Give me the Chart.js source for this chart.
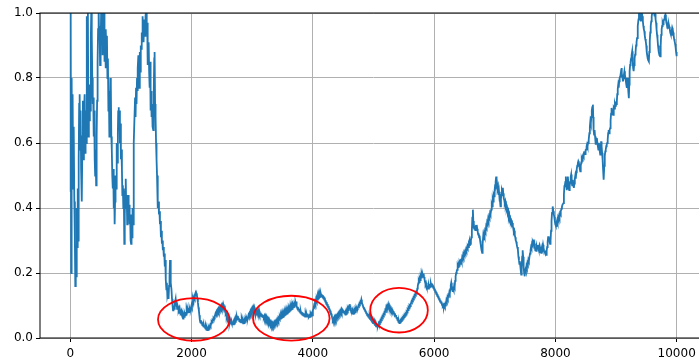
<!DOCTYPE html>
<html>
<head>
<meta charset="utf-8">
<script src="https://cdn.jsdelivr.net/npm/chart.js@4/dist/chart.umd.min.js"></script>
<style>
html,body{margin:0;padding:0;background:#fff;overflow:hidden}
#wrap{width:720px;height:357px}
</style>
</head>
<body>
<div id="wrap"><canvas id="c" width="720" height="357"></canvas></div>
<script>
// Random-walk trace: [step, value]
const series = [
[0,0.45],[6,1.02],[14,0.20],[22,0.80],[30,0.46],[38,0.75],[46,0.50],[56,0.65],[66,0.42],[75,0.30],
[82,0.16],[90,0.22],[98,0.19],[106,0.40],[114,0.28],[122,0.46],[130,0.30],[138,0.55],[146,0.72],[154,0.75],
[162,0.58],[170,0.70],[178,0.52],[186,0.60],[192,0.42],[200,0.62],[208,0.73],[216,0.55],[224,0.68],[236,0.75],
[244,0.57],[252,0.70],[260,0.60],[268,0.88],[275,0.99],[282,0.80],[290,1.0],[298,0.62],[306,0.72],[314,0.67],
[322,0.78],[330,0.70],[338,0.92],[346,1.01],[354,0.93],[362,0.80],[370,0.72],[378,0.74],[386,0.62],[394,0.70],
[402,0.55],[410,0.50],[418,0.58],[426,0.47],[434,0.62],[442,0.73],[450,0.85],[458,0.95],[467,1.02],[475,0.92],
[483,0.96],[491,0.84],[500,0.90],[508,1.0],[516,0.95],[524,1.02],[532,0.87],[540,0.98],[548,0.92],[556,1.0],
[564,0.85],[572,0.93],[580,0.83],[588,0.95],[596,0.88],[604,0.93],[612,0.80],[620,0.86],[628,0.70],[636,0.76],
[644,0.62],[652,0.68],[660,0.80],[668,0.78],[676,0.62],[684,0.58],[692,0.50],[700,0.46],[708,0.52],[716,0.40],
[724,0.45],[731,0.35],[738,0.42],[746,0.50],[754,0.46],[762,0.58],[768,0.60],[776,0.54],[784,0.63],[790,0.70],
[796,0.71],[802,0.64],[810,0.70],[818,0.60],[826,0.66],[834,0.55],[842,0.58],[851,0.52],[858,0.44],[866,0.47],
[874,0.40],[882,0.46],[890,0.29],[898,0.38],[906,0.45],[914,0.49],[922,0.40],[930,0.44],[938,0.35],[946,0.40],
[954,0.44],[962,0.37],[970,0.41],[978,0.35],[986,0.38],[994,0.30],[1002,0.29],[1010,0.38],[1018,0.31],[1026,0.40],
[1034,0.35],[1042,0.50],[1050,0.60],[1060,0.69],[1068,0.74],[1076,0.68],[1084,0.77],[1092,0.72],[1100,0.80],[1108,0.76],
[1115,0.83],[1122,0.87],[1130,0.80],[1138,0.77],[1146,0.88],[1154,0.82],[1162,0.90],[1170,0.89],[1178,0.94],[1186,0.92],
[1192,0.99],[1200,0.95],[1208,0.91],[1216,0.96],[1224,0.98],[1232,0.93],[1240,0.99],[1252,1.01],[1260,0.94],[1268,0.97],
[1276,0.84],[1284,0.88],[1292,0.91],[1300,0.82],[1308,0.77],[1316,0.85],[1324,0.70],[1332,0.76],[1340,0.68],[1348,0.72],
[1356,0.65],[1368,0.64],[1376,0.76],[1384,0.86],[1390,0.88],[1398,0.72],[1406,0.68],[1414,0.60],[1422,0.55],[1430,0.50],
[1438,0.45],[1446,0.40],[1454,0.42],[1462,0.38],[1470,0.39],[1478,0.35],[1486,0.36],[1494,0.31],[1502,0.33],[1510,0.29],
[1518,0.30],[1526,0.27],[1534,0.28],[1542,0.25],[1550,0.26],[1558,0.22],[1566,0.24],[1574,0.18],[1584,0.15],[1592,0.17],
[1600,0.13],[1611,0.14],[1620,0.12],[1628,0.16],[1636,0.19],[1644,0.24],[1652,0.22],[1660,0.17],[1668,0.15],[1677,0.12],
[1686,0.10],[1694,0.085],[1702,0.10],[1710,0.09],[1718,0.115],[1726,0.105],[1737,0.12],[1745,0.10],[1753,0.11],[1761,0.09],
[1769,0.10],[1777,0.095],[1785,0.085],[1793,0.09],[1801,0.075],[1809,0.085],[1817,0.07],[1825,0.08],[1833,0.085],[1841,0.07],
[1849,0.065],[1859,0.06],[1867,0.07],[1875,0.065],[1886,0.075],[1894,0.07],[1902,0.08],[1910,0.072],[1918,0.085],[1926,0.078],
[1934,0.09],[1941,0.085],[1950,0.092],[1958,0.08],[1966,0.09],[1974,0.084],[1982,0.095],[1990,0.09],[1998,0.10],[2006,0.095],
[2014,0.11],[2023,0.118],[2032,0.11],[2040,0.125],[2048,0.12],[2056,0.132],[2063,0.138],[2072,0.128],[2080,0.137],[2088,0.132],
[2096,0.12],[2104,0.11],[2112,0.095],[2120,0.085],[2128,0.07],[2136,0.055],[2144,0.048],[2152,0.055],[2160,0.045],[2168,0.05],
[2177,0.04],[2186,0.044],[2194,0.036],[2202,0.04],[2210,0.034],[2218,0.038],[2226,0.03],[2234,0.033],[2242,0.026],[2250,0.03],
[2258,0.024],[2266,0.028],[2274,0.025],[2282,0.032],[2290,0.028],[2298,0.035],[2306,0.04],[2314,0.037],[2322,0.045],[2330,0.05],
[2338,0.048],[2346,0.056],[2354,0.055],[2362,0.062],[2370,0.06],[2378,0.07],[2386,0.066],[2394,0.075],[2402,0.072],[2410,0.08],
[2418,0.076],[2426,0.084],[2434,0.08],[2442,0.088],[2450,0.082],[2458,0.09],[2466,0.086],[2474,0.094],[2482,0.09],[2490,0.098],
[2498,0.092],[2506,0.10],[2514,0.095],[2522,0.104],[2530,0.098],[2538,0.09],[2546,0.10],[2554,0.085],[2562,0.075],[2570,0.078],
[2578,0.065],[2586,0.07],[2594,0.058],[2602,0.062],[2610,0.05],[2618,0.055],[2626,0.045],[2634,0.052],[2642,0.042],[2650,0.05],
[2658,0.044],[2666,0.052],[2674,0.046],[2682,0.05],[2690,0.042],[2698,0.048],[2706,0.044],[2714,0.054],[2722,0.05],[2730,0.06],
[2738,0.056],[2746,0.066],[2754,0.06],[2762,0.068],[2770,0.058],[2778,0.062],[2786,0.052],[2794,0.058],[2802,0.05],[2810,0.056],
[2818,0.048],[2826,0.055],[2834,0.048],[2842,0.052],[2850,0.045],[2858,0.05],[2866,0.046],[2874,0.054],[2882,0.05],[2890,0.058],
[2898,0.054],[2906,0.062],[2914,0.058],[2922,0.065],[2930,0.06],[2938,0.07],[2946,0.066],[2954,0.074],[2962,0.07],[2970,0.08],
[2978,0.075],[2986,0.085],[2994,0.08],[3002,0.09],[3010,0.085],[3018,0.094],[3026,0.088],[3034,0.095],[3041,0.09],[3050,0.08],
[3058,0.072],[3066,0.078],[3074,0.07],[3082,0.08],[3090,0.074],[3098,0.082],[3106,0.076],[3114,0.084],[3122,0.077],[3130,0.072],
[3138,0.078],[3146,0.068],[3154,0.074],[3162,0.066],[3170,0.072],[3178,0.064],[3186,0.07],[3194,0.062],[3202,0.068],[3210,0.06],
[3218,0.066],[3226,0.058],[3234,0.064],[3242,0.055],[3250,0.06],[3258,0.052],[3266,0.057],[3274,0.048],[3282,0.054],[3290,0.046],
[3298,0.05],[3306,0.043],[3314,0.048],[3322,0.042],[3330,0.046],[3338,0.04],[3346,0.045],[3354,0.042],[3362,0.048],[3370,0.044],
[3378,0.05],[3386,0.046],[3394,0.052],[3402,0.048],[3410,0.056],[3418,0.052],[3426,0.06],[3434,0.055],[3442,0.062],[3450,0.058],
[3458,0.066],[3466,0.06],[3474,0.068],[3482,0.062],[3490,0.07],[3498,0.064],[3506,0.072],[3514,0.066],[3522,0.075],[3530,0.07],
[3538,0.078],[3546,0.072],[3554,0.08],[3562,0.074],[3570,0.082],[3578,0.076],[3586,0.085],[3594,0.08],[3602,0.088],[3610,0.082],
[3618,0.09],[3626,0.085],[3634,0.094],[3642,0.088],[3650,0.096],[3658,0.09],[3666,0.10],[3674,0.094],[3682,0.10],[3690,0.096],
[3698,0.104],[3706,0.10],[3714,0.11],[3722,0.104],[3728,0.112],[3736,0.098],[3744,0.092],[3752,0.096],[3760,0.088],[3768,0.09],
[3776,0.082],[3784,0.086],[3792,0.078],[3800,0.082],[3808,0.075],[3816,0.08],[3824,0.072],[3832,0.078],[3840,0.07],[3848,0.076],
[3856,0.068],[3864,0.074],[3872,0.066],[3880,0.072],[3888,0.066],[3896,0.074],[3904,0.068],[3912,0.075],[3920,0.066],[3928,0.072],
[3936,0.065],[3946,0.07],[3954,0.065],[3962,0.072],[3970,0.068],[3978,0.075],[3990,0.07],[4000,0.085],[4010,0.09],[4020,0.10],
[4028,0.097],[4036,0.11],[4044,0.105],[4052,0.118],[4060,0.112],[4068,0.124],[4076,0.118],[4084,0.128],[4092,0.122],[4100,0.132],
[4108,0.126],[4116,0.134],[4124,0.128],[4132,0.136],[4140,0.13],[4148,0.134],[4156,0.126],[4164,0.132],[4172,0.122],[4180,0.128],
[4188,0.118],[4196,0.124],[4204,0.112],[4212,0.116],[4220,0.105],[4228,0.11],[4236,0.10],[4244,0.104],[4252,0.094],[4260,0.098],
[4268,0.088],[4276,0.09],[4284,0.08],[4292,0.084],[4300,0.072],[4308,0.075],[4316,0.064],[4324,0.06],[4332,0.055],[4340,0.06],
[4348,0.054],[4356,0.062],[4364,0.056],[4372,0.064],[4380,0.058],[4388,0.066],[4396,0.062],[4404,0.07],[4412,0.066],[4420,0.074],
[4428,0.07],[4436,0.078],[4444,0.074],[4452,0.082],[4460,0.078],[4468,0.086],[4476,0.08],[4484,0.088],[4496,0.084],[4504,0.08],
[4512,0.084],[4520,0.076],[4528,0.08],[4536,0.072],[4544,0.078],[4552,0.074],[4560,0.082],[4568,0.078],[4576,0.09],[4584,0.086],
[4592,0.096],[4600,0.10],[4608,0.104],[4616,0.094],[4624,0.088],[4632,0.08],[4640,0.084],[4648,0.076],[4656,0.08],[4664,0.074],
[4672,0.08],[4680,0.076],[4688,0.084],[4696,0.08],[4704,0.088],[4712,0.084],[4720,0.092],[4728,0.088],[4736,0.096],[4744,0.092],
[4752,0.10],[4760,0.098],[4768,0.106],[4776,0.104],[4784,0.112],[4792,0.11],[4800,0.118],[4808,0.11],[4816,0.104],[4824,0.10],
[4832,0.094],[4840,0.096],[4848,0.088],[4856,0.09],[4864,0.082],[4872,0.084],[4880,0.076],[4888,0.078],[4896,0.07],[4904,0.074],
[4912,0.066],[4920,0.07],[4928,0.062],[4936,0.064],[4944,0.058],[4952,0.06],[4960,0.054],[4968,0.056],[4976,0.05],[4984,0.052],
[4992,0.046],[5000,0.05],[5010,0.044],[5018,0.046],[5026,0.04],[5034,0.042],[5042,0.036],[5050,0.04],[5058,0.035],[5066,0.04],
[5074,0.036],[5082,0.044],[5090,0.04],[5098,0.048],[5106,0.046],[5114,0.054],[5122,0.052],[5130,0.06],[5138,0.058],[5146,0.066],
[5154,0.064],[5162,0.072],[5170,0.07],[5178,0.078],[5186,0.076],[5194,0.086],[5202,0.084],[5210,0.094],[5218,0.09],[5226,0.10],
[5234,0.098],[5242,0.104],[5250,0.096],[5258,0.10],[5266,0.09],[5274,0.094],[5282,0.086],[5290,0.09],[5298,0.082],[5306,0.086],
[5314,0.078],[5322,0.082],[5330,0.076],[5338,0.08],[5346,0.072],[5354,0.076],[5362,0.068],[5370,0.07],[5378,0.062],[5386,0.064],
[5394,0.056],[5402,0.058],[5410,0.05],[5418,0.052],[5426,0.046],[5434,0.05],[5442,0.048],[5450,0.054],[5458,0.052],[5466,0.058],
[5474,0.056],[5482,0.062],[5490,0.06],[5498,0.066],[5506,0.064],[5514,0.07],[5522,0.068],[5530,0.074],[5538,0.072],[5546,0.08],
[5554,0.078],[5562,0.088],[5570,0.086],[5578,0.094],[5586,0.092],[5594,0.10],[5602,0.098],[5610,0.106],[5618,0.104],[5626,0.112],
[5634,0.11],[5642,0.118],[5650,0.116],[5658,0.124],[5666,0.122],[5674,0.13],[5682,0.128],[5690,0.136],[5698,0.134],[5706,0.142],
[5714,0.14],[5722,0.152],[5730,0.16],[5738,0.168],[5746,0.176],[5754,0.172],[5762,0.182],[5770,0.178],[5778,0.19],[5786,0.186],
[5794,0.194],[5802,0.188],[5810,0.196],[5818,0.19],[5826,0.198],[5834,0.188],[5842,0.18],[5850,0.172],[5858,0.166],[5866,0.17],
[5874,0.16],[5882,0.164],[5890,0.154],[5898,0.16],[5906,0.152],[5914,0.162],[5922,0.156],[5930,0.166],[5938,0.158],[5946,0.168],
[5954,0.162],[5962,0.168],[5970,0.158],[5978,0.164],[5986,0.154],[5994,0.158],[6002,0.148],[6010,0.152],[6018,0.142],[6026,0.146],
[6034,0.136],[6042,0.14],[6050,0.13],[6058,0.134],[6066,0.124],[6074,0.128],[6082,0.118],[6090,0.122],[6098,0.112],[6106,0.116],
[6114,0.108],[6122,0.112],[6130,0.102],[6138,0.106],[6146,0.098],[6154,0.102],[6162,0.094],[6170,0.10],[6178,0.096],[6186,0.106],
[6194,0.104],[6202,0.116],[6210,0.112],[6218,0.124],[6226,0.12],[6234,0.132],[6242,0.13],[6250,0.14],[6258,0.136],[6266,0.15],
[6274,0.162],[6282,0.17],[6290,0.158],[6298,0.15],[6306,0.142],[6314,0.15],[6322,0.146],[6330,0.16],[6338,0.156],[6346,0.176],
[6354,0.19],[6364,0.20],[6372,0.206],[6380,0.21],[6388,0.222],[6396,0.218],[6404,0.226],[6412,0.222],[6420,0.232],[6428,0.228],
[6436,0.24],[6446,0.242],[6454,0.236],[6462,0.248],[6470,0.244],[6478,0.255],[6486,0.25],[6494,0.262],[6502,0.258],[6510,0.266],
[6518,0.262],[6526,0.272],[6534,0.268],[6542,0.278],[6550,0.274],[6558,0.284],[6566,0.28],[6574,0.29],[6582,0.286],[6590,0.296],
[6598,0.29],[6606,0.30],[6614,0.31],[6622,0.33],[6630,0.37],[6639,0.395],[6646,0.36],[6654,0.34],[6662,0.336],[6670,0.344],
[6678,0.332],[6686,0.342],[6694,0.34],[6702,0.348],[6710,0.336],[6718,0.328],[6726,0.318],[6734,0.322],[6742,0.31],[6750,0.315],
[6758,0.30],[6766,0.29],[6774,0.28],[6782,0.27],[6792,0.262],[6800,0.29],[6808,0.31],[6816,0.30],[6824,0.32],[6832,0.314],
[6840,0.33],[6848,0.326],[6858,0.344],[6866,0.34],[6874,0.356],[6882,0.352],[6890,0.366],[6898,0.36],[6906,0.374],[6914,0.37],
[6922,0.384],[6930,0.38],[6941,0.395],[6950,0.41],[6958,0.405],[6966,0.426],[6974,0.42],[6982,0.44],[6990,0.436],[6998,0.456],
[7006,0.47],[7014,0.48],[7023,0.497],[7030,0.47],[7038,0.475],[7046,0.46],[7054,0.466],[7062,0.44],[7070,0.45],[7078,0.42],
[7086,0.43],[7094,0.405],[7102,0.43],[7110,0.44],[7118,0.455],[7126,0.45],[7133,0.462],[7140,0.445],[7148,0.43],[7156,0.425],
[7164,0.415],[7172,0.42],[7180,0.405],[7188,0.41],[7196,0.395],[7204,0.40],[7216,0.385],[7224,0.39],[7232,0.372],[7240,0.378],
[7248,0.364],[7256,0.368],[7264,0.356],[7272,0.36],[7280,0.35],[7288,0.354],[7298,0.344],[7306,0.336],[7314,0.326],[7322,0.33],
[7330,0.316],[7338,0.31],[7346,0.30],[7354,0.296],[7362,0.288],[7370,0.28],[7381,0.272],[7390,0.25],[7398,0.24],[7406,0.228],
[7414,0.236],[7422,0.22],[7430,0.205],[7436,0.195],[7444,0.22],[7452,0.25],[7460,0.27],[7468,0.25],[7476,0.22],[7484,0.20],
[7490,0.19],[7498,0.20],[7506,0.21],[7514,0.205],[7522,0.22],[7530,0.215],[7538,0.23],[7546,0.226],[7554,0.24],[7562,0.236],
[7573,0.251],[7582,0.26],[7590,0.27],[7598,0.28],[7606,0.276],[7614,0.29],[7622,0.285],[7630,0.296],[7638,0.29],[7645,0.303],
[7652,0.29],[7660,0.28],[7668,0.27],[7676,0.276],[7684,0.268],[7692,0.282],[7700,0.276],[7708,0.286],[7716,0.278],[7724,0.272],
[7732,0.28],[7740,0.268],[7748,0.264],[7756,0.27],[7765,0.262],[7772,0.276],[7780,0.282],[7788,0.276],[7796,0.287],[7804,0.278],
[7812,0.27],[7820,0.264],[7828,0.268],[7836,0.258],[7848,0.256],[7856,0.27],[7864,0.28],[7872,0.296],[7880,0.31],[7888,0.313],
[7896,0.304],[7904,0.296],[7912,0.29],[7920,0.30],[7928,0.33],[7936,0.36],[7944,0.385],[7952,0.40],[7958,0.405],[7966,0.39],
[7974,0.38],[7982,0.372],[7990,0.36],[7998,0.35],[8006,0.346],[8013,0.344],[8020,0.356],[8028,0.362],[8036,0.356],[8044,0.37],
[8052,0.365],[8060,0.375],[8068,0.37],[8076,0.384],[8084,0.38],[8092,0.39],[8100,0.398],[8108,0.404],[8116,0.41],[8124,0.41],
[8133,0.415],[8140,0.44],[8148,0.467],[8156,0.47],[8164,0.48],[8172,0.497],[8180,0.47],[8188,0.455],[8196,0.47],[8205,0.497],
[8212,0.48],[8220,0.46],[8228,0.455],[8236,0.47],[8244,0.48],[8252,0.495],[8260,0.503],[8268,0.48],[8276,0.47],[8287,0.487],
[8296,0.47],[8304,0.462],[8312,0.475],[8320,0.49],[8328,0.50],[8336,0.49],[8344,0.51],[8352,0.52],[8360,0.53],[8370,0.538],
[8378,0.544],[8386,0.54],[8394,0.53],[8402,0.52],[8410,0.513],[8418,0.53],[8426,0.54],[8434,0.55],[8442,0.545],[8450,0.56],
[8458,0.564],[8466,0.56],[8474,0.572],[8482,0.574],[8490,0.566],[8498,0.578],[8506,0.58],[8514,0.59],[8522,0.596],[8530,0.59],
[8538,0.60],[8546,0.605],[8552,0.61],[8560,0.63],[8568,0.65],[8576,0.667],[8584,0.66],[8592,0.68],[8600,0.70],[8608,0.71],
[8618,0.718],[8624,0.68],[8630,0.64],[8638,0.626],[8646,0.64],[8654,0.62],[8662,0.60],[8668,0.595],[8676,0.61],[8684,0.615],
[8692,0.60],[8700,0.59],[8708,0.58],[8716,0.60],[8724,0.59],[8732,0.574],[8739,0.564],[8746,0.58],[8754,0.605],[8762,0.59],
[8770,0.57],[8778,0.55],[8786,0.52],[8792,0.50],[8799,0.487],[8806,0.53],[8814,0.56],[8822,0.574],[8830,0.58],[8838,0.59],
[8846,0.595],[8854,0.60],[8862,0.61],[8870,0.63],[8878,0.64],[8886,0.63],[8894,0.64],[8903,0.646],[8910,0.67],[8918,0.69],
[8926,0.708],[8934,0.70],[8942,0.69],[8950,0.687],[8958,0.70],[8966,0.71],[8974,0.706],[8982,0.72],[8990,0.714],[8998,0.722],
[9006,0.72],[9013,0.728],[9020,0.75],[9028,0.766],[9036,0.779],[9044,0.77],[9052,0.79],[9060,0.80],[9068,0.805],[9074,0.81],
[9082,0.82],[9090,0.831],[9098,0.815],[9106,0.80],[9114,0.79],[9122,0.80],[9130,0.81],[9138,0.821],[9146,0.81],[9154,0.80],
[9162,0.79],[9170,0.779],[9178,0.77],[9186,0.80],[9194,0.79],[9202,0.76],[9211,0.738],[9218,0.78],[9224,0.821],[9232,0.84],
[9240,0.85],[9248,0.86],[9256,0.87],[9266,0.882],[9274,0.85],[9282,0.83],[9290,0.821],[9298,0.84],[9306,0.86],[9314,0.872],
[9322,0.88],[9330,0.90],[9338,0.91],[9346,0.923],[9354,0.94],[9362,0.96],[9370,0.98],[9378,1.0],[9387,1.02],[9394,1.0],
[9402,0.985],[9410,0.974],[9418,0.99],[9426,1.0],[9434,0.99],[9442,0.975],[9450,0.96],[9458,0.95],[9466,0.944],[9474,0.93],
[9482,0.92],[9490,0.913],[9498,0.90],[9506,0.88],[9514,0.87],[9522,0.86],[9530,0.855],[9541,0.851],[9548,0.88],[9556,0.913],
[9564,0.94],[9572,0.96],[9580,0.974],[9588,0.99],[9596,1.0],[9604,1.01],[9612,1.02],[9620,1.01],[9628,1.0],[9636,0.99],
[9644,0.998],[9652,0.98],[9660,0.97],[9668,0.95],[9676,0.933],[9684,0.92],[9692,0.90],[9700,0.885],[9708,0.88],[9716,0.87],
[9728,0.867],[9736,0.90],[9744,0.933],[9752,0.95],[9760,0.96],[9768,0.97],[9776,0.965],[9784,0.975],[9792,0.98],[9799,0.985],
[9806,0.99],[9814,0.995],[9822,0.985],[9830,0.97],[9838,0.965],[9846,0.954],[9854,0.96],[9862,0.955],[9870,0.965],[9878,0.958],
[9886,0.95],[9894,0.94],[9902,0.935],[9910,0.933],[9918,0.945],[9926,0.955],[9934,0.95],[9942,0.94],[9950,0.93],[9958,0.92],
[9966,0.913],[9974,0.905],[9982,0.895],[9990,0.88],[9999,0.867]
];

const xTicks = [0, 2000, 4000, 6000, 8000, 10000];
const yTicks = [0, 0.2, 0.4, 0.6, 0.8, 1.0];

// Highlighted regions: [centre step, centre value, width in steps, height in value]
const highlights = [
  [2036, 0.057, 1180, 0.131],
  [3644, 0.061, 1263, 0.138],
  [5421, 0.0855, 950, 0.137]
];

const FONT = { family: 'DejaVu Sans', size: 12 };

const frame = {
  id: 'frame',
  afterDatasetsDraw(chart) {
    const { ctx, chartArea: a } = chart;
    ctx.save();
    ctx.strokeStyle = '#000';
    ctx.lineWidth = 1;
    ctx.strokeRect(a.left, a.top, a.right - a.left, a.bottom - a.top);
    ctx.restore();
  }
};

const rings = {
  id: 'rings',
  afterDraw(chart) {
    const { ctx } = chart;
    const xs = chart.scales.x, ys = chart.scales.y;
    ctx.save();
    ctx.strokeStyle = '#ff0000';
    ctx.lineWidth = 1.8;
    for (const [cx, cy, w, h] of highlights) {
      const px = xs.getPixelForValue(cx);
      const py = ys.getPixelForValue(cy);
      const rx = Math.abs(xs.getPixelForValue(cx + w / 2) - px);
      const ry = Math.abs(ys.getPixelForValue(cy + h / 2) - py);
      ctx.beginPath();
      ctx.ellipse(px, py, rx, ry, 0, 0, Math.PI * 2);
      ctx.stroke();
    }
    ctx.restore();
  }
};

new Chart(document.getElementById('c'), {
  type: 'line',
  data: {
    datasets: [{
      data: series.map(([x, y]) => ({ x, y })),
      borderColor: '#1f77b4',
      borderWidth: 1.8,
      pointRadius: 0,
      fill: false,
      tension: 0,
      clip: 0
    }]
  },
  options: {
    responsive: false,
    animation: false,
    parsing: false,
    layout: { padding: { top: 13, right: 13, left: 0, bottom: 0 } },
    plugins: { legend: { display: false }, tooltip: { enabled: false } },
    scales: {
      x: {
        type: 'linear',
        min: -500,
        max: 10500,
        afterBuildTicks(s) { s.ticks = xTicks.map(v => ({ value: v })); },
        afterFit(s) { s.height = 19; },
        ticks: { callback: v => String(v), font: FONT, color: '#000', maxRotation: 0, padding: 5 },
        grid: { color: '#b0b0b0', lineWidth: 1, tickLength: 4, tickColor: '#000' },
        border: { display: false }
      },
      y: {
        type: 'linear',
        min: 0,
        max: 1,
        afterBuildTicks(s) { s.ticks = yTicks.map(v => ({ value: v })); },
        afterFit(s) { s.width = 40; },
        ticks: { callback: v => Number(v).toFixed(1), font: FONT, color: '#000', padding: 3 },
        grid: { color: '#b0b0b0', lineWidth: 1, tickLength: 4, tickColor: '#000' },
        border: { display: false }
      }
    }
  },
  plugins: [frame, rings]
});
</script>
</body>
</html>
